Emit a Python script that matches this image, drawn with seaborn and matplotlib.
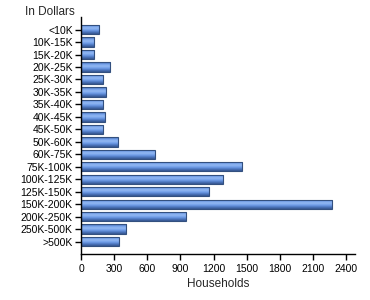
import matplotlib
matplotlib.use("Agg")
import matplotlib.pyplot as plt
import seaborn as sns
import numpy as np
import pandas as pd
from matplotlib.colors import LinearSegmentedColormap

categories = ["<10K", "10K-15K", "15K-20K", "20K-25K", "25K-30K", "30K-35K", "35K-40K",
              "40K-45K", "45K-50K", "50K-60K", "60K-75K", "75K-100K", "100K-125K",
              "125K-150K", "150K-200K", "200K-250K", "250K-500K", ">500K"]
households = [165, 120, 120, 265, 200, 226, 200, 217, 200, 335, 670, 1460, 1290,
              1160, 2275, 955, 408, 344]
xticks = [0, 300, 600, 900, 1200, 1500, 1800, 2100, 2400]

sns.set_style("white")
plt.rcParams['font.family'] = ['Liberation Sans', 'DejaVu Sans']

df = pd.DataFrame({"income": categories, "households": households})

fig = plt.figure(figsize=(3.7, 3.0), dpi=100)
ax = fig.add_axes([0.219, 0.153, 0.74, 0.79])
sns.barplot(data=df, y="income", x="households", orient="h", ax=ax,
            color="#5b8ad6", edgecolor="#33507f", linewidth=0.8, width=0.75,
            saturation=1)

cmap = LinearSegmentedColormap.from_list("g", ["#3e63a6", "#72a0ea", "#93b8f2", "#72a0ea", "#4d77c0", "#36568f"])
grad = np.linspace(0, 1, 64).reshape(-1, 1)
for p in ax.patches:
    x0, y0 = p.get_x(), p.get_y()
    w, h = p.get_width(), p.get_height()
    im = ax.imshow(grad, cmap=cmap, aspect="auto", extent=[x0, x0 + w, y0 + h, y0],
                   origin="upper", zorder=p.get_zorder() + 0.1, interpolation="bilinear")
    im.set_clip_path(p)
    p.set_facecolor("none")
    p.set_zorder(p.get_zorder() + 0.2)

ax.set_xlim(0, 2480)
ax.set_ylim(len(categories), -1.0)
ax.set_xticks(xticks)
ax.tick_params(axis="both", which="major", labelsize=7.5, length=4, width=1,
               direction="out", colors="black", bottom=True, left=True)
ax.tick_params(axis="y", pad=2)
ax.tick_params(axis="x", pad=3)
for s in ["top", "right"]:
    ax.spines[s].set_visible(False)
for s in ["left", "bottom"]:
    ax.spines[s].set_color("black")
    ax.spines[s].set_linewidth(1)
ax.set_ylabel("")
ax.set_xlabel("Households", fontsize=8.5, labelpad=3)
fig.text(0.068, 0.98, "In Dollars", fontsize=8.5, ha="left", va="top")

fig.savefig("out.png", dpi=100)
